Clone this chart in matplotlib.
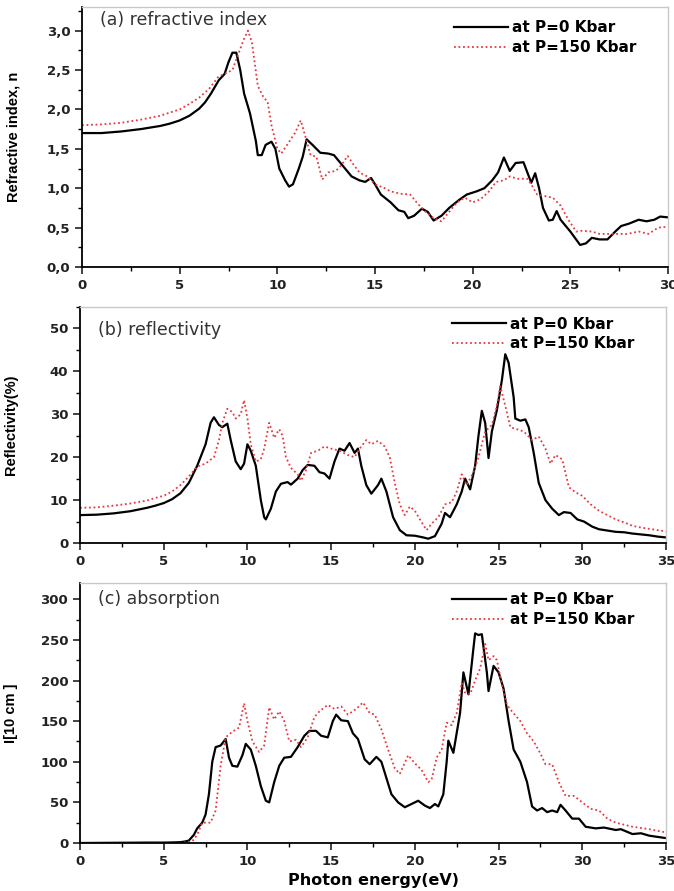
import numpy as np
import matplotlib
matplotlib.use('Agg')
import matplotlib.pyplot as plt
from matplotlib.ticker import MultipleLocator, FuncFormatter

plt.rcParams['font.family'] = ['DejaVu Sans']

# (a) refractive index
xa0 = [0, 1, 2, 3, 4, 4.5, 5, 5.5, 6, 6.3, 6.6, 7, 7.3, 7.5, 7.7, 7.9, 8.1, 8.3, 8.6, 8.9, 9.0,
       9.2, 9.4, 9.7, 9.9, 10.1, 10.4, 10.6, 10.8, 11.1, 11.3, 11.5, 11.8, 12.2, 12.6, 12.9, 13.3,
       13.8, 14.2, 14.5, 14.8, 15.0, 15.3, 15.8, 16.2, 16.5, 16.7, 17.0, 17.4, 17.7, 18.0, 18.4,
       18.8, 19.3, 19.7, 20.2, 20.6, 21.0, 21.3, 21.6, 21.9, 22.2, 22.6, 22.8, 23.0, 23.2, 23.4,
       23.6, 23.9, 24.1, 24.3, 24.5, 25.0, 25.5, 25.8, 26.1, 26.5, 26.9, 27.3, 27.6, 28.0, 28.5,
       28.9, 29.3, 29.6, 30]
na0 = [1.70, 1.70, 1.72, 1.75, 1.79, 1.82, 1.86, 1.92, 2.01, 2.09, 2.2, 2.37, 2.45, 2.6, 2.72,
       2.72, 2.5, 2.2, 1.95, 1.6, 1.42, 1.42, 1.55, 1.59, 1.5, 1.25, 1.1, 1.02, 1.05, 1.25, 1.4,
       1.62, 1.55, 1.45, 1.44, 1.42, 1.3, 1.15, 1.1, 1.08, 1.13, 1.05, 0.92, 0.82, 0.72, 0.7,
       0.62, 0.65, 0.74, 0.7, 0.59, 0.65, 0.75, 0.85, 0.92, 0.96, 1.0, 1.1, 1.2, 1.39, 1.22, 1.32,
       1.33, 1.2, 1.07, 1.19, 1.0, 0.75, 0.59, 0.6, 0.71, 0.6, 0.45, 0.28, 0.3, 0.37, 0.35, 0.35,
       0.45, 0.52, 0.55, 0.6, 0.58, 0.6, 0.64, 0.63]
xa1 = [0, 1, 2, 3, 4, 4.5, 5, 5.5, 6, 6.5, 7, 7.3, 7.7, 8.0, 8.3, 8.5, 8.7, 9.0, 9.3, 9.5, 9.7,
       10.0, 10.2, 10.5, 10.9, 11.2, 11.5, 11.7, 12.0, 12.3, 12.6, 13.0, 13.3, 13.6, 13.9, 14.2,
       14.6, 15.0, 15.5, 15.8, 16.3, 16.8, 17.2, 17.6, 18.0, 18.4, 18.8, 19.2, 19.6, 20.0, 20.4,
       20.8, 21.2, 21.6, 21.9, 22.3, 22.8, 23.0, 23.3, 23.7, 24.1, 24.5, 24.9, 25.3, 25.6, 26.1,
       26.5, 26.9, 27.4, 27.9, 28.5, 29.0, 29.5, 30]
na1 = [1.80, 1.81, 1.83, 1.87, 1.92, 1.96, 2.0, 2.07, 2.15, 2.26, 2.42, 2.45, 2.5, 2.7, 2.9, 3.0,
       2.85, 2.3, 2.15, 2.1, 1.8, 1.5, 1.44, 1.55, 1.7, 1.86, 1.6, 1.42, 1.4, 1.11, 1.2, 1.22, 1.3,
       1.41, 1.3, 1.2, 1.15, 1.05, 1.0, 0.96, 0.93, 0.92, 0.8, 0.7, 0.62, 0.58, 0.7, 0.82, 0.88,
       0.82, 0.86, 0.95, 1.08, 1.1, 1.15, 1.12, 1.12, 1.05, 0.92, 0.9, 0.88, 0.78, 0.6, 0.45, 0.46,
       0.45, 0.42, 0.42, 0.42, 0.42, 0.45, 0.42, 0.5, 0.51]

# (b) reflectivity
xb0 = [0, 1, 2, 3, 4, 4.5, 5, 5.5, 6, 6.5, 7, 7.5, 7.8, 8.0, 8.3, 8.5, 8.8, 9.0, 9.3, 9.6, 9.8,
       10.0, 10.2, 10.5, 10.8, 11.0, 11.1, 11.4, 11.7, 12.0, 12.4, 12.6, 13.0, 13.3, 13.6, 14.0,
       14.3, 14.6, 14.9, 15.2, 15.5, 15.8, 16.1, 16.4, 16.6, 16.8, 17.1, 17.4, 17.8, 18.0, 18.3,
       18.7, 19.1, 19.5, 20.0, 20.5, 20.8, 21.2, 21.6, 21.8, 22.1, 22.5, 22.8, 23.0, 23.3, 23.6,
       23.8, 24.0, 24.2, 24.4, 24.6, 24.9, 25.2, 25.4, 25.6, 25.9, 26.0, 26.3, 26.6, 26.8, 27.1,
       27.4, 27.8, 28.2, 28.6, 28.9, 29.3, 29.7, 30.1, 30.6, 31.0, 31.5, 32, 32.5, 33, 33.5, 34,
       34.5, 35]
rb0 = [6.5, 6.6, 6.9, 7.4, 8.2, 8.7, 9.3, 10.2, 11.6, 14, 18, 23, 28, 29.3, 27.5, 27, 27.8, 24,
       19, 17.2, 18.5, 23, 21.5, 18, 10, 6, 5.5, 8, 12, 13.8, 14.2, 13.6, 15, 17, 18.2, 18, 16.5,
       16.2, 15, 19, 22, 21.5, 23.3, 21, 22, 18, 13.5, 11.5, 13.5, 15, 12, 6, 3, 1.8, 1.7, 1.3,
       1.0, 1.6, 4.5, 7, 6, 9, 12, 15, 12.5, 18, 25, 30.8, 28, 19.8, 26, 31, 38, 44, 42, 34, 29,
       28.5, 28.8, 27, 21, 14, 10, 8, 6.5, 7.2, 7, 5.5, 5, 3.8, 3.2, 2.9, 2.6, 2.5, 2.2, 2.0, 1.8,
       1.5, 1.3]
xb1 = [0, 1, 2, 3, 4, 4.5, 5, 5.5, 6, 6.5, 7, 7.5, 8, 8.3, 8.5, 8.8, 9.1, 9.3, 9.6, 9.8, 10.0,
       10.2, 10.5, 10.8, 11.0, 11.3, 11.6, 11.9, 12.1, 12.3, 12.6, 13.0, 13.2, 13.5, 13.8, 14.2,
       14.6, 15.0, 15.5, 16.0, 16.4, 16.7, 17.1, 17.4, 17.8, 18.2, 18.5, 18.8, 19.1, 19.4, 19.7,
       20.0, 20.3, 20.7, 21.0, 21.4, 21.8, 22.2, 22.5, 22.8, 23.1, 23.5, 23.8, 24.2, 24.6, 24.9,
       25.1, 25.4, 25.7, 26.1, 26.5, 27.0, 27.4, 27.8, 28.1, 28.4, 28.8, 29.2, 29.6, 30.0, 30.5,
       31.0, 31.5, 32.0, 32.5, 33.0, 33.5, 34.0, 34.5, 35.0]
rb1 = [8.2, 8.3, 8.7, 9.2, 9.9, 10.5, 11.0, 12, 13.5, 15.5, 17.8, 18.5, 20, 24, 28, 31.3, 30.5,
       29, 30, 33.3, 29, 23, 19, 19.5, 22, 28, 24.5, 26.5, 25, 20, 17.5, 16, 14.5, 17, 21, 21.5,
       22.5, 22, 21.5, 20.5, 20, 22, 24, 23, 23.8, 22.5, 20, 14, 9, 6.5, 8.5, 7.5, 5.5, 3, 4.5,
       6, 9, 9.5, 12, 16, 13.5, 16.5, 20, 26, 27.5, 32, 36.5, 32, 27, 26.5, 26, 24, 24.8, 22,
       18.5, 20.5, 19.5, 13, 11.8, 11, 9, 7.5, 6.5, 5.5, 4.8, 4.0, 3.6, 3.3, 3.0, 2.7]

# (c) absorption
xc0 = [0, 4, 5, 5.5, 6, 6.3, 6.5, 6.8, 7.0, 7.3, 7.5, 7.7, 7.9, 8.1, 8.4, 8.7, 8.9, 9.1, 9.4,
       9.7, 9.9, 10.2, 10.5, 10.8, 11.1, 11.3, 11.6, 11.9, 12.2, 12.6, 13.0, 13.4, 13.7, 14.1,
       14.4, 14.8, 15.1, 15.3, 15.6, 16.0, 16.3, 16.6, 17.0, 17.3, 17.7, 18.0, 18.3, 18.6, 19.0,
       19.4, 19.8, 20.2, 20.6, 20.9, 21.2, 21.4, 21.7, 21.9, 22.0, 22.3, 22.7, 22.9, 23.2, 23.5,
       23.6, 23.8, 24.0, 24.3, 24.4, 24.7, 25.0, 25.3, 25.6, 25.9, 26.3, 26.7, 27.0, 27.3, 27.6,
       27.9, 28.2, 28.5, 28.7, 29.0, 29.4, 29.8, 30.2, 30.8, 31.3, 32.0, 32.3, 33.0, 33.5, 34.0,
       35.0]
ac0 = [0, 0.5, 0.5, 0.7, 1, 2, 3, 10, 18, 25, 35, 60, 100, 118, 120, 128, 105, 95, 94, 108, 122,
       115, 95, 70, 52, 50, 75, 95, 105, 106, 118, 132, 138, 138, 132, 130, 150, 158, 151, 150,
       135, 128, 103, 97, 106, 100, 80, 60, 50, 44, 48, 52, 46, 43, 48, 45, 60, 100, 126, 111,
       160, 210, 183, 240, 258, 256, 257, 210, 187, 218, 210, 190, 150, 115, 100, 75, 45, 40, 43,
       38, 40, 38, 47, 40, 30, 30, 20, 18, 19, 16, 17, 11, 12, 9, 6]
xc1 = [0, 5, 6, 6.7, 7.0, 7.3, 7.8, 8.1, 8.4, 8.7, 9.1, 9.5, 9.8, 10.0, 10.3, 10.7, 11.0, 11.3,
       11.6, 11.9, 12.2, 12.5, 12.9, 13.2, 13.6, 14.0, 14.3, 14.8, 15.2, 15.6, 16.0, 16.5, 16.9,
       17.3, 17.6, 18.0, 18.4, 18.8, 19.1, 19.6, 20.0, 20.4, 20.8, 21.0, 21.3, 21.6, 21.9, 22.2,
       22.5, 22.8, 23.0, 23.3, 23.6, 23.9, 24.2, 24.4, 24.7, 24.9, 25.2, 25.5, 25.8, 26.3, 26.7,
       27.1, 27.5, 27.8, 28.2, 28.6, 29.0, 29.5, 30.0, 30.5, 31.0, 31.5, 32.0, 33.0, 34.0, 35.0]
ac1 = [0, 0, 0, 2, 10, 25, 25, 40, 95, 130, 137, 142, 172, 150, 125, 112, 120, 167, 152, 162, 150,
       125, 127, 118, 130, 155, 162, 170, 165, 168, 158, 165, 173, 160, 158, 140, 115, 92, 85, 108,
       98, 90, 75, 78, 105, 115, 148, 145, 160, 197, 185, 183, 200, 215, 245, 225, 230, 225, 195,
       170, 162, 150, 135, 125, 110, 97, 97, 75, 58, 58, 50, 42, 40, 30, 25, 20, 17, 13]

labels = ['at P=0 Kbar', 'at P=150 Kbar']
red = '#e8383d'

fig = plt.figure(figsize=(6.74, 8.91), dpi=100)
W, H = 674.0, 891.0
boxes = [(82, 7, 668, 267), (80, 307, 666, 543), (80, 583, 666, 843)]
axs = [fig.add_axes([l / W, 1 - b / H, (r - l) / W, (b - t) / H]) for (l, t, r, b) in boxes]

panels = [
    (axs[0], xa0, na0, xa1, na1, (0, 30), (0, 3.3), 0.5, 0.25, 'Refractive index, n', '(a) refractive index', 0.985, 0.99),
    (axs[1], xb0, rb0, xb1, rb1, (0, 35), (0, 55), 10, 5, 'Reflectivity(%)', '(b) reflectivity', 0.94, 1.005),
    (axs[2], xc0, ac0, xc1, ac1, (0, 35), (0, 320), 50, 25, 'I[10 cm ]', '(c) absorption', 0.975, 1.005),
]

comma = FuncFormatter(lambda v, p: ('%.1f' % v).replace('.', ','))

for ax, x0, y0, x1, y1, xl, yl, maj, mnr, ylab, title, ty, ly in panels:
    ax.plot(x0, y0, color='black', lw=1.6, label=labels[0])
    ax.plot(x1, y1, color=red, lw=1.3, ls=(0, (1, 1.5)), label=labels[1])
    ax.set_xlim(*xl)
    ax.set_ylim(*yl)
    ax.xaxis.set_major_locator(MultipleLocator(5))
    ax.xaxis.set_minor_locator(MultipleLocator(2.5))
    ax.yaxis.set_major_locator(MultipleLocator(maj))
    ax.yaxis.set_minor_locator(MultipleLocator(mnr))
    ax.tick_params(which='major', direction='out', length=5, width=1.2, labelsize=9.5, colors='#222222')
    ax.tick_params(which='minor', direction='out', length=3, width=1.0)
    for s in ['top', 'right']:
        ax.spines[s].set_color('#c8c8c8')
        ax.spines[s].set_linewidth(1.0)
    for s in ['left', 'bottom']:
        ax.spines[s].set_linewidth(1.3)
    for lab in ax.get_xticklabels() + ax.get_yticklabels():
        lab.set_fontweight('bold')
    ax.set_ylabel(ylab, fontsize=10.5, fontweight='bold',
                  family=['Liberation Sans Narrow', 'Liberation Sans', 'DejaVu Sans'])
    ax.yaxis.set_label_coords(-0.105, 0.5)
    ax.text(0.03, ty, title, transform=ax.transAxes, ha='left', va='top', fontsize=12.5, color='#333333')
    ax.legend(loc='upper right', bbox_to_anchor=(0.965, ly), frameon=False,
              prop={'weight': 'bold', 'size': 11}, handlelength=3.5,
              handletextpad=0.3, labelspacing=0.3, borderpad=0.2)

axs[0].yaxis.set_major_formatter(comma)
axs[2].set_xlabel('Photon energy(eV)', fontsize=11.5, fontweight='bold', labelpad=4)

fig.savefig('out.png', dpi=100)
